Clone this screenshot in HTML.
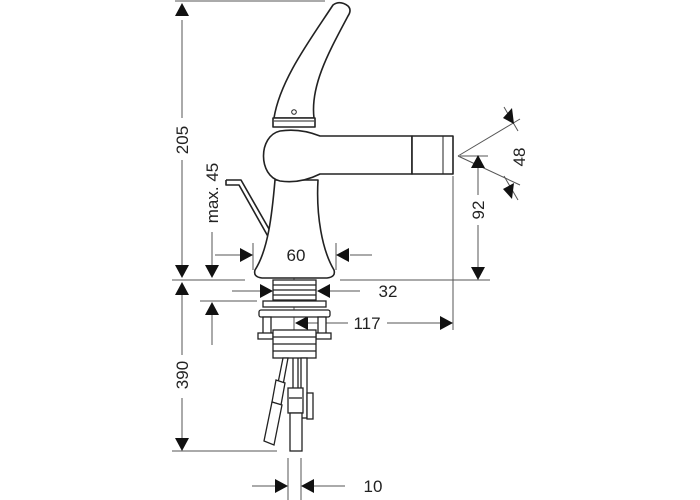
<!DOCTYPE html>
<html><head><style>
html,body{margin:0;padding:0;background:#fff;}
svg{display:block;}
text{font-family:"Liberation Sans",sans-serif;font-size:17px;fill:#222;}
</style></head><body>
<svg width="700" height="500" viewBox="0 0 700 500" xmlns="http://www.w3.org/2000/svg">
<defs>
<marker id="a" viewBox="0 0 10 10" refX="10" refY="5" markerWidth="13" markerHeight="13" markerUnits="userSpaceOnUse" orient="auto"><path d="M0,0L10,5L0,10z" fill="#111"/></marker>
</defs>
<g stroke="#555" stroke-width="1" fill="none">
<!-- extension lines -->
<line x1="175" y1="1" x2="325" y2="1"/>
<line x1="172" y1="280" x2="245" y2="280"/>
<line x1="340" y1="280" x2="490" y2="280"/>
<line x1="172" y1="451" x2="277" y2="451"/>
<line x1="200" y1="301" x2="257" y2="301"/>
<line x1="453" y1="176" x2="453" y2="330"/>
<line x1="294" y1="248" x2="294" y2="330"/>
<line x1="253" y1="243" x2="253" y2="270"/>
<line x1="336" y1="243" x2="336" y2="270"/>
<line x1="288" y1="458" x2="288" y2="500"/>
<line x1="301" y1="458" x2="301" y2="500"/>
<!-- 205 -->
<line x1="182" y1="20" x2="182" y2="118"/>
<line x1="182" y1="160" x2="182" y2="268"/>
<!-- 390 -->
<line x1="182" y1="292" x2="182" y2="355"/>
<line x1="182" y1="398" x2="182" y2="440"/>
<!-- max 45 -->
<line x1="212" y1="232" x2="212" y2="265"/>
<line x1="212" y1="315" x2="212" y2="345"/>
<!-- 60 -->
<line x1="215" y1="255" x2="240" y2="255"/>
<line x1="350" y1="255" x2="372" y2="255"/>
<!-- 32 -->
<line x1="232" y1="291" x2="260" y2="291"/>
<line x1="330" y1="291" x2="360" y2="291"/>
<!-- 117 -->
<line x1="308" y1="323" x2="348" y2="323"/>
<line x1="387" y1="323" x2="440" y2="323"/>
<!-- 92 -->
<line x1="478" y1="168" x2="478" y2="195"/>
<line x1="478" y1="225" x2="478" y2="268"/>
<!-- 48 -->
<line x1="458" y1="156" x2="520" y2="119"/>
<line x1="458" y1="156" x2="520" y2="185"/>
<line x1="460" y1="156" x2="488" y2="156"/>
<line x1="504" y1="107" x2="518" y2="131"/>
<line x1="504" y1="176" x2="518" y2="200"/>
<!-- 10 -->
<line x1="252" y1="486" x2="275" y2="486"/>
<line x1="314" y1="486" x2="345" y2="486"/>
</g>
<!-- arrowheads -->
<g fill="#111">
<path d="M182,3L175,16L189,16z"/>
<path d="M182,278L175,265L189,265z"/>
<path d="M182,282L175,295L189,295z"/>
<path d="M182,451L175,438L189,438z"/>
<path d="M212,278L205,265L219,265z"/>
<path d="M212,302L205,315L219,315z"/>
<path d="M253,255L240,248L240,262z"/>
<path d="M336,255L349,248L349,262z"/>
<path d="M273,291L260,284L260,298z"/>
<path d="M317,291L330,284L330,298z"/>
<path d="M295,323L308,316L308,330z"/>
<path d="M453,323L440,316L440,330z"/>
<path d="M478,155L471,168L485,168z"/>
<path d="M478,280L471,267L485,267z"/>
<path d="M514,124L503,118L512,108z"/>
<path d="M514,183L503,189L512,199z"/>
<path d="M288,486L275,479L275,493z"/>
<path d="M301,486L314,479L314,493z"/>
</g>
<!-- faucet -->
<g stroke="#222" stroke-width="1.6" fill="#fff" stroke-linejoin="round">
<path d="M274,118 C280,80 310,40 333,5 Q340,0 348,6 Q352,10 348,16 C330,50 310,85 314,118 Z"/>
<rect x="273" y="118" width="42" height="9"/>
<line x1="274" y1="121" x2="314" y2="121" stroke-width="1"/>
<circle cx="294" cy="112" r="2.3" stroke-width="1"/>
<path d="M226,180 L241,180 L273,236"/>
<path d="M226,180 L226,185 L239,185 L270,240" />
<path d="M275,180 C272,215 268,250 255,270 Q253,277 262,278 L327,278 Q336,277 334,270 C322,250 316,215 318,180 Z"/>
<path d="M280,131 C258,136 258,176 280,181 Q300,184 320,174 L412,174 L412,136 L320,136 Q300,128 280,131 Z"/>
<rect x="412" y="136" width="41" height="38"/>
<line x1="443" y1="136" x2="443" y2="174" stroke-width="1"/>
</g>
<!-- lower mounting -->
<g stroke="#222" stroke-width="1.3" fill="#fff">
<rect x="273" y="280" width="43" height="20"/>
<line x1="273" y1="285" x2="316" y2="285"/><line x1="273" y1="290" x2="316" y2="290"/><line x1="273" y1="295" x2="316" y2="295"/>
<rect x="263" y="301" width="63" height="6"/>
<rect x="259" y="310" width="71" height="7" rx="2"/>
<rect x="263" y="317" width="8" height="18"/><rect x="318" y="317" width="8" height="18"/>
<rect x="258" y="333" width="15" height="6"/><rect x="316" y="333" width="15" height="6"/>
<rect x="273" y="330" width="43" height="28"/>
<line x1="273" y1="337" x2="316" y2="337"/><line x1="273" y1="344" x2="316" y2="344"/><line x1="273" y1="351" x2="316" y2="351"/>
<rect x="301" y="358" width="6" height="60"/>
<rect x="307" y="393" width="6" height="26"/>
<rect x="288" y="388" width="15" height="25"/>
<rect x="290" y="413" width="12" height="38"/>
<line x1="289" y1="398" x2="302" y2="398"/>
<line x1="293" y1="358" x2="293" y2="388"/>
<line x1="298" y1="358" x2="298" y2="388"/>
<path d="M283,358 L288,358 L283,385 L278,383 Z"/>
<path d="M276,380 L285,383 L281,405 L272,402 Z"/>
<path d="M272,402 L282,405 L274,445 L264,441 Z"/>
</g>
<!-- labels -->
<text transform="translate(188,140) rotate(-90)" text-anchor="middle">205</text>
<text transform="translate(188,375) rotate(-90)" text-anchor="middle">390</text>
<text transform="translate(218,193) rotate(-90)" text-anchor="middle">max. 45</text>
<text x="296" y="261" text-anchor="middle">60</text>
<text x="388" y="297" text-anchor="middle">32</text>
<text x="367" y="329" text-anchor="middle">117</text>
<text transform="translate(484,210) rotate(-90)" text-anchor="middle">92</text>
<text transform="translate(525,157) rotate(-90)" text-anchor="middle">48</text>
<text x="373" y="492" text-anchor="middle">10</text>
</svg>
</body></html>
